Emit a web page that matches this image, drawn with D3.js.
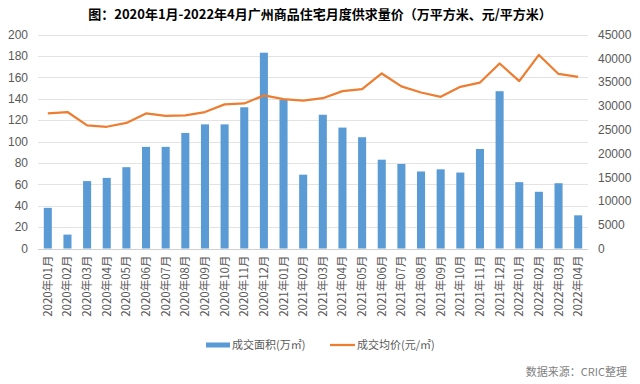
<!DOCTYPE html>
<html>
<head>
<meta charset="utf-8">
<script src="https://cdn.jsdelivr.net/npm/d3@7"></script>
<style>
  body { margin: 0; background: #fff; }
  text { font-family: "Noto Sans CJK SC", "Noto Sans", sans-serif; }
</style>
</head>
<body>
<script>
var months = ['2020年01月','2020年02月','2020年03月','2020年04月','2020年05月','2020年06月',
  '2020年07月','2020年08月','2020年09月','2020年10月','2020年11月','2020年12月',
  '2021年01月','2021年02月','2021年03月','2021年04月','2021年05月','2021年06月',
  '2021年07月','2021年08月','2021年09月','2021年10月','2021年11月','2021年12月',
  '2022年01月','2022年02月','2022年03月','2022年04月']
// 成交面积 (万㎡)
var area = [38,13,63,66,76,95,95,108,116,116,132,183,139,69,125,113,104,83,79,72,74,71,93,147,62,53,61,31]
// 成交均价 (元/㎡)
var price = [28400,28700,25900,25600,26400,28400,27900,28000,28700,30300,30500,32200,
  31400,31100,31600,33100,33500,36800,34100,32800,31900,34000,34900,38900,35200,40700,36700,36100]
var leftTicks = d3.range(0, 201, 20)
var rightTicks = d3.range(0, 45001, 5000)

var W = 640, H = 384
var m = {left: 38, right: 52, top: 34.5, bottom: 135.5}

var svg = d3.select('body').append('svg')
  .attr('width', W).attr('height', H)

var x = d3.scaleBand().domain(months).range([m.left, W - m.right]).paddingInner(0.59).paddingOuter(0.295)
var y = d3.scaleLinear().domain([0, 200]).range([H - m.bottom, m.top])
var y2 = d3.scaleLinear().domain([0, 45000]).range([H - m.bottom, m.top])

// title
svg.append('text')
  .attr('x', 320).attr('y', 19)
  .attr('text-anchor', 'middle')
  .style('font-size', '13px').style('font-weight', 'bold').attr('fill', '#000')
  .text('图：2020年1月-2022年4月广州商品住宅月度供求量价（万平方米、元/平方米）')

// gridlines
svg.append('g').selectAll('line').data(leftTicks).enter().append('line')
  .attr('x1', m.left).attr('x2', W - m.right)
  .attr('y1', function(d){ return Math.round(y(d)) + 0.5 })
  .attr('y2', function(d){ return Math.round(y(d)) + 0.5 })
  .attr('stroke', function(d){ return d === 0 ? '#d0d0d0' : '#e3e3e3' })
  .attr('stroke-width', 1)

// left axis
var ax = svg.append('g').attr('transform', 'translate(' + (m.left - 10) + ',0)')
  .call(d3.axisLeft(y).tickValues(leftTicks).tickSize(0).tickPadding(0))
ax.select('.domain').remove()
ax.selectAll('text').style('font-size', '12px').attr('fill', '#595959')
  .style('font-family', '"Liberation Sans", Arial, sans-serif')

// right axis
var ax2 = svg.append('g').attr('transform', 'translate(' + (W - m.right + 10) + ',0)')
  .call(d3.axisRight(y2).tickValues(rightTicks).tickSize(0).tickPadding(0).tickFormat(d3.format('d')))
ax2.select('.domain').remove()
ax2.selectAll('text').style('font-size', '12px').attr('fill', '#595959')
  .style('font-family', '"Liberation Sans", Arial, sans-serif')

// bars
svg.append('g').selectAll('rect').data(area).enter().append('rect')
  .attr('x', function(d, i){ return x(months[i]) })
  .attr('width', x.bandwidth())
  .attr('y', function(d){ return y(d) })
  .attr('height', function(d){ return y(0) - y(d) })
  .attr('fill', '#5B9BD5')

// price line
var line = d3.line()
  .x(function(d, i){ return x(months[i]) + x.bandwidth() / 2 })
  .y(function(d){ return y2(d) })
svg.append('path').datum(price)
  .attr('d', line)
  .attr('fill', 'none')
  .attr('stroke', '#ED7D31')
  .attr('stroke-width', 2.25)
  .attr('stroke-linejoin', 'round')

// x labels (rotated)
var ax3 = svg.append('g').attr('transform', 'translate(0,' + (H - m.bottom) + ')')
  .call(d3.axisBottom(x).tickSize(0).tickPadding(0))
ax3.select('.domain').remove()
ax3.selectAll('text')
  .attr('transform', 'rotate(-90)')
  .attr('x', -7).attr('y', 0).attr('dy', '0.35em')
  .attr('text-anchor', 'end')
  .style('font-size', '11.5px').attr('fill', '#595959')

// legend
var lg = svg.append('g').attr('transform', 'translate(0,345)')
lg.append('rect').attr('x', 206).attr('y', -2.5).attr('width', 24).attr('height', 5).attr('fill', '#5B9BD5')
lg.append('text').attr('x', 232).attr('y', 0).attr('dy', '0.35em')
  .style('font-size', '11px').attr('fill', '#595959').text('成交面积(万㎡)')
lg.append('line').attr('x1', 330).attr('x2', 355).attr('y1', 0).attr('y2', 0)
  .attr('stroke', '#ED7D31').attr('stroke-width', 2.25)
lg.append('text').attr('x', 357).attr('y', 0).attr('dy', '0.35em')
  .style('font-size', '11px').attr('fill', '#595959').text('成交均价(元/㎡)')

// source
svg.append('text').attr('x', 627).attr('y', 376)
  .attr('text-anchor', 'end')
  .style('font-size', '11px').attr('fill', '#7f7f7f')
  .text('数据来源：CRIC整理')
</script>
</body>
</html>
